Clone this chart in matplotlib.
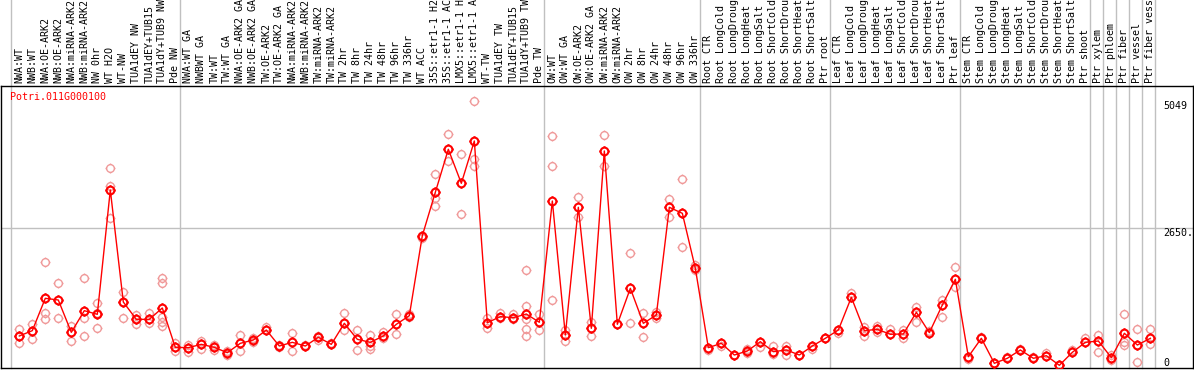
import matplotlib
matplotlib.use("Agg")
import matplotlib.pyplot as plt
from matplotlib.path import Path

GENE = "Potri.011G000100"

labels = [
    "NWA:WT", "NWB:WT", "NWA:OE-ARK2", "NWB:OE-ARK2", "NWA:miRNA-ARK2", "NWB:miRNA-ARK2",
    "NW 0hr", "WT H2O", "WT-NW", "TUA1dEY NW", "TUA1dEY+TUB15", "TUA1dY+TUB9 NW", "Pde NW",
    "NWA:WT GA", "NWBWT GA", "TW:WT", "TW:WT GA", "NWA:OE-ARK2 GA", "NWB:OE-ARK2 GA",
    "TW:OE-ARK2", "TW:OE-ARK2 GA", "NWA:miRNA-ARK2", "NWB:miRNA-ARK2", "TW:miRNA-ARK2",
    "TW:miRNA-ARK2", "TW 2hr", "TW 8hr", "TW 24hr", "TW 48hr", "TW 96hr", "TW 336hr",
    "WT ACC", "35S::etr1-1 H2O", "35S::etr1-1 ACC", "LMX5::etr1-1 H2O", "LMX5::etr1-1 ACC",
    "WT-TW", "TUA1dEY TW", "TUA1dEY+TUB15", "TUA1dY+TUB9 TW", "Pde TW",
    "OW:WT", "OW:WT GA", "OW:OE-ARK2", "OW:OE-ARK2 GA", "OW:miRNA-ARK2", "OW:miRNA-ARK2",
    "OW 2hr", "OW 8hr", "OW 24hr", "OW 48hr", "OW 96hr", "OW 336hr",
    "Root CTR", "Root LongCold", "Root LongDrought", "Root LongHeat", "Root LongSalt",
    "Root ShortCold", "Root ShortDrought", "Root ShortHeat", "Root ShortSalt", "Ptr root",
    "Leaf CTR", "Leaf LongCold", "Leaf LongDrought", "Leaf LongHeat", "Leaf LongSalt",
    "Leaf ShortCold", "Leaf ShortDrought", "Leaf ShortHeat", "Leaf ShortSalt", "Ptr leaf",
    "Stem CTR", "Stem LongCold", "Stem LongDrought", "Stem LongHeat", "Stem LongSalt",
    "Stem ShortCold", "Stem ShortDrought", "Stem ShortHeat", "Stem ShortSalt", "Ptr shoot",
    "Ptr xylem", "Ptr phloem", "Ptr fiber", "Ptr vessel", "Ptr fiber vessel",
]

# first sample index of each group (vertical separators)
group_starts = [0, 13, 41, 53, 63, 73, 83, 84, 85, 86, 87, 88]

means = [
    606, 707, 1319, 1287, 675, 1085, 1016, 3370, 1249, 921, 921, 1136, 391,
    385, 448, 391, 290, 467, 530, 719, 416, 486, 416, 581, 448, 846, 543, 486, 606,
    827, 990, 2505, 3326, 4140, 3496, 4297, 858, 972, 953, 1022, 865,
    3161, 625, 3042, 751, 4108, 827, 1508, 846, 1003, 3042, 2928, 1887,
    385, 467, 246, 322, 498, 309, 341, 246, 416, 562,
    719, 1338, 707, 732, 638, 644, 1054, 669, 1193, 1679,
    214, 562, 89, 184, 341, 184, 233, 51, 297, 486,
    511, 196, 657, 435, 562,
]

replicates = [
    [732, 467, 606], [827, 543], [2000, 1047, 934], [1603, 953], [801, 517],
    [1698, 940, 612], [1224, 751, 1047], [3780, 3445, 2846], [1432, 1249, 953],
    [1003, 827], [1047, 858], [1710, 1615, 972, 877, 795], [480, 322],
    [435, 309], [517, 360], [435, 341], [328, 246], [625, 322], [562, 498], [782],
    [435, 391], [657, 322], [435], [606, 530], [467], [1035, 719], [719, 341],
    [625, 416, 360], [687, 562], [1022, 638], [1022, 972], [2486, 2455],
    [3672, 3212, 3072], [4424, 3919], [4051, 2909], [5049, 3950, 3824], [940, 751],
    [1047, 953], [1022, 921], [1855, 1174, 921, 732, 606], [1022, 719],
    [4392, 3824, 1287], [719, 517], [3231, 2852], [865, 612], [4405, 3824], [827],
    [2171, 846], [1035, 593], [1066, 940], [3193, 2852], [3572, 2284], [1950, 1855],
    [341], [416], [246], [354, 278], [404], [416, 265], [416, 246], [246], [354], [562],
    [669], [1426], [782, 606], [795, 687], [732], [719, 562], [1161, 865], [707],
    [1287, 972], [1906, 1539],
    [164], [581], [100], [214], [354], [214], [278], [51], [341], [562],
    [625, 309], [246, 151], [1022, 498, 435], [732, 108], [732, 454],
]

ymax_label = 5049
ymid_label = 2650
header_chars = 14  # the header only has room for this many characters


def ring_marker() -> Path:
    # circle with four small ticks at N, E, S, W
    circle = Path.unit_circle()
    ticks = []
    for dx, dy in [(0, 1), (1, 0), (0, -1), (-1, 0)]:
        ticks.append(Path([(dx * 1.0, dy * 1.0), (dx * 1.3, dy * 1.3)], [Path.MOVETO, Path.LINETO]))
    return Path.make_compound_path(circle, *ticks)


def main() -> None:
    font = "DejaVu Sans Mono"
    fs = 7.2
    grid = "#c0c0c0"

    fig = plt.figure(figsize=(11.94, 3.70), dpi=100)
    ax = fig.add_axes([1 / 1194, 2 / 370, 1192 / 1194, 282 / 370])
    ax.set_xlim(-1.408, 90.28)
    ax.set_ylim(0, 5338)
    ax.set_xticks([])
    ax.set_yticks([])
    for s in ax.spines.values():
        s.set_color("black")
        s.set_linewidth(1)

    # separators, running up through the header
    for g in group_starts:
        ax.axvline(g - 0.615, ymin=0, ymax=1 + 86 / 282, clip_on=False, color=grid, lw=1, zorder=0)
    ax.axhline(ymid_label, color=grid, lw=1, zorder=0)

    marker = ring_marker()
    xs = list(range(len(means)))
    for i, reps in enumerate(replicates):
        ax.plot([i] * len(reps), reps, linestyle="none", marker=marker, markersize=7.2,
                markerfacecolor="none", markeredgecolor="#f09a9a", markeredgewidth=1, zorder=2)
    ax.plot(xs, means, color="red", lw=1, zorder=3)
    ax.plot(xs, means, linestyle="none", marker=marker, markersize=7.2, markerfacecolor="none",
            markeredgecolor="red", markeredgewidth=1.5, zorder=4)

    # sample names in the header
    xtrans = ax.get_xaxis_transform()
    for i, lab in enumerate(labels):
        ax.text(i, 1 + 3 / 282, lab[:header_chars], transform=xtrans, rotation=90, ha="center",
                va="bottom", fontsize=fs, family=font, color="black", clip_on=False)

    # scale labels on the right
    ax.text(88, ymax_label, str(ymax_label), ha="left", va="top", fontsize=fs, family=font)
    ax.text(88, ymid_label, f"{ymid_label}.", ha="left", va="top", fontsize=fs, family=font)
    ax.text(88, 0, "0", ha="left", va="bottom", fontsize=fs, family=font)

    ax.text(9 / 1192, (368 - 97) / 282, GENE, transform=ax.transAxes, ha="left", va="center",
            fontsize=fs, family=font, color="red")

    fig.savefig("out.png", dpi=100)


if __name__ == "__main__":
    main()
